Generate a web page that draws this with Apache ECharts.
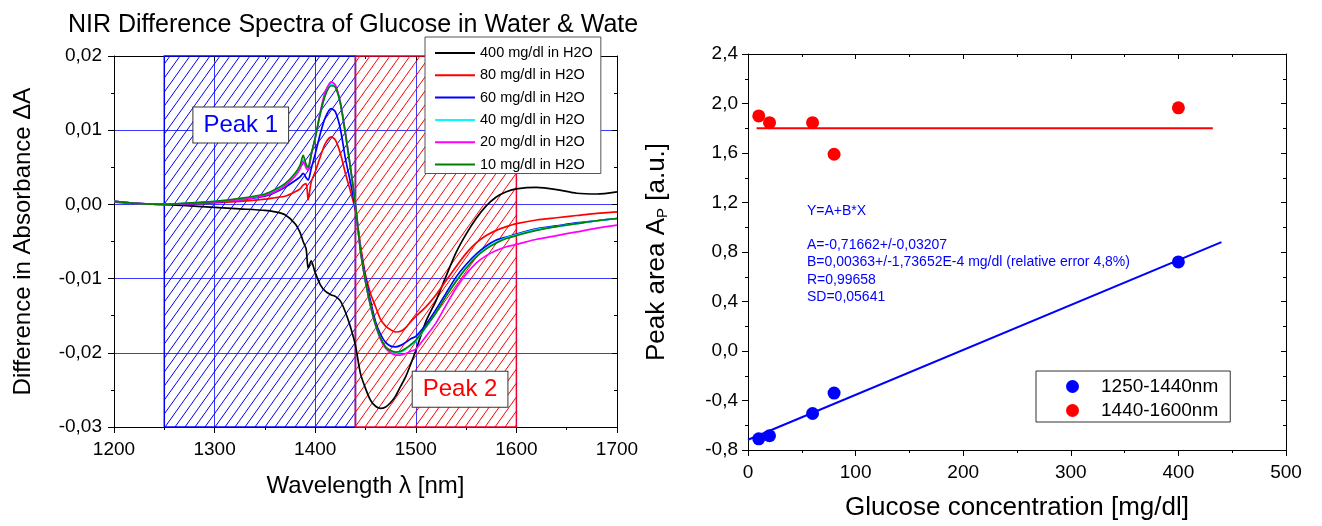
<!DOCTYPE html>
<html>
<head>
<meta charset="utf-8">
<script src="https://cdn.jsdelivr.net/npm/echarts@6.0.0/dist/echarts.min.js"></script>
<style>
html,body{margin:0;padding:0;background:#fff;}
#chart{width:1322px;height:526px;}
</style>
</head>
<body>
<div id="chart"></div>
<script>
// ---------------- data: left panel (difference spectra) ----------------
const wavelengths = [1200,1225,1250,1275,1300,1325,1350,1360,1370,1380,1385,1388,1391,1393,1396,1400,1405,1410,1416,1420,1425,1430,1435,1440,1445,1450,1455,1460,1465,1470,1475,1480,1485,1490,1495,1500,1510,1520,1530,1540,1550,1560,1570,1580,1590,1600,1620,1640,1660,1680,1700];
const dA400 = [0.0003,0.0001,0.0,-0.0002,-0.0004,-0.0006,-0.0008,-0.001,-0.0014,-0.0026,-0.0038,-0.005,-0.006,-0.0086,-0.0076,-0.0092,-0.0108,-0.0117,-0.0122,-0.0124,-0.013,-0.0145,-0.0165,-0.019,-0.0228,-0.0248,-0.0264,-0.0272,-0.0275,-0.0273,-0.0267,-0.0258,-0.0245,-0.0232,-0.0215,-0.0197,-0.0158,-0.013,-0.0097,-0.0065,-0.004,-0.0019,-0.0002,0.001,0.0017,0.0021,0.0023,0.002,0.0015,0.0014,0.0017];
const dA80 = [0.0004,0.0001,0.0,0.0001,0.0002,0.0004,0.0007,0.0009,0.0011,0.0017,0.0021,0.0026,0.0028,0.0006,0.003,0.0044,0.0064,0.0082,0.0091,0.0087,0.0069,0.0042,0.0018,-0.0008,-0.0055,-0.0095,-0.012,-0.0138,-0.0155,-0.0164,-0.0169,-0.0172,-0.0171,-0.0166,-0.0158,-0.0151,-0.0138,-0.0122,-0.0103,-0.0084,-0.0066,-0.0052,-0.0042,-0.0035,-0.003,-0.0026,-0.0021,-0.0018,-0.0015,-0.0012,-0.001];
const dA60 = [0.0004,0.0001,0.0,0.0001,0.0003,0.0006,0.0011,0.0016,0.0023,0.0032,0.0037,0.0042,0.0036,0.0033,0.0048,0.0068,0.0095,0.0117,0.0129,0.0125,0.0102,0.0062,0.003,-0.0006,-0.006,-0.0098,-0.013,-0.0158,-0.0175,-0.0186,-0.0191,-0.0192,-0.019,-0.0186,-0.0181,-0.0178,-0.0162,-0.0142,-0.012,-0.0098,-0.0081,-0.0067,-0.0056,-0.0048,-0.0044,-0.004,-0.0033,-0.0029,-0.0025,-0.0022,-0.0019];
const dA40 = [0.0004,0.0001,0.0,0.0002,0.0004,0.0007,0.0013,0.0018,0.0026,0.004,0.005,0.006,0.0052,0.0048,0.0066,0.0089,0.0122,0.0148,0.0162,0.0159,0.0137,0.0096,0.005,0.0,-0.0062,-0.0104,-0.0137,-0.0163,-0.0181,-0.0193,-0.0198,-0.02,-0.0199,-0.0195,-0.019,-0.0184,-0.0166,-0.0146,-0.0124,-0.0103,-0.0085,-0.007,-0.0059,-0.0051,-0.0045,-0.0041,-0.0034,-0.003,-0.0026,-0.0022,-0.0019];
const dA20 = [0.0004,0.0001,0.0,0.0001,0.0003,0.0006,0.0012,0.0017,0.0025,0.0038,0.0048,0.0058,0.0049,0.0046,0.0066,0.0089,0.0124,0.0152,0.0165,0.0161,0.0138,0.0097,0.005,0.0,-0.0062,-0.0104,-0.0137,-0.0163,-0.0182,-0.0194,-0.02,-0.0203,-0.0203,-0.0201,-0.0198,-0.0195,-0.0178,-0.016,-0.0136,-0.0113,-0.0094,-0.0079,-0.0069,-0.0062,-0.0057,-0.0054,-0.0047,-0.0042,-0.0037,-0.0032,-0.0028];
const dA10 = [0.0004,0.0001,0.0,0.0002,0.0004,0.0008,0.0014,0.002,0.0028,0.0042,0.0053,0.0066,0.0054,0.005,0.0068,0.009,0.0122,0.0147,0.016,0.0158,0.0136,0.0095,0.005,0.0,-0.0062,-0.0104,-0.0136,-0.0162,-0.018,-0.0192,-0.0197,-0.0199,-0.0198,-0.0194,-0.0189,-0.0183,-0.0165,-0.0146,-0.0124,-0.0104,-0.0086,-0.0071,-0.006,-0.0052,-0.0046,-0.0042,-0.0035,-0.003,-0.0026,-0.0022,-0.0019];
const spectraNames = ['400 mg/dl in H2O','80 mg/dl in H2O','60 mg/dl in H2O','40 mg/dl in H2O','20 mg/dl in H2O','10 mg/dl in H2O'];
const peakRegion1 = [1250, 1440];
const peakRegion2 = [1440, 1600];
const peakLabels = ['Peak 1', 'Peak 2'];
const peakLabelPos = [[1326, 0.0107], [1544, -0.0249]];

// ---------------- data: right panel (peak areas) ----------------
const concentrations = [10, 20, 60, 80, 400];
const areaPeak1 = [-0.71, -0.685, -0.505, -0.34, 0.72];
const areaPeak2 = [1.90, 1.845, 1.845, 1.59, 1.965];
const fitLineX = [0, 440];
const fitLineY = [-0.717, 0.88];
const meanLineX = [8, 432];
const meanLineY = [1.80, 1.80];
const areaNames = ['1250-1440nm', '1440-1600nm'];
const fitText = ['Y=A+B*X', '', 'A=-0,71662+/-0,03207', 'B=0,00363+/-1,73652E-4 mg/dl (relative error 4,8%)', 'R=0,99658', 'SD=0,05641'];

// ---------------- helpers ----------------
const FONT = "'Liberation Sans', Arial, sans-serif";
function zip(xs, ys) { return xs.map((x, i) => [x, ys[i]]); }
function comma(d) { return v => v.toFixed(d).replace('.', ','); }
function plain(v) { return String(v); }
function hatch(color) {
  const w = 10, h = 14;
  const c = document.createElement('canvas');
  c.width = w; c.height = h;
  const ctx = c.getContext('2d');
  ctx.strokeStyle = color; ctx.lineWidth = 1;
  ctx.beginPath();
  for (let k = -1; k <= 1; k++) {
    ctx.moveTo(k * w - 1, h + h / w); ctx.lineTo(k * w + w + 1, -h / w);
  }
  ctx.stroke();
  return c;
}

const chart = echarts.init(document.getElementById('chart'), null, {renderer: 'canvas'});

const lineColors = ['#000000', '#ff0000', '#0000ff', '#00ffff', '#ff00ff', '#008000'];
const spectra = [dA400, dA80, dA60, dA40, dA20, dA10];

const G1 = {left: 114, top: 56, width: 503, height: 371};
const G2 = {left: 748, top: 54, width: 538, height: 396};

const axisLine = {show: true, onZero: false, lineStyle: {color: '#000', width: 1}};
const label19 = {color: '#000', fontSize: 19, fontFamily: FONT};

const series = [];
// hatched peak regions
series.push({
  type: 'line', xAxisIndex: 0, yAxisIndex: 0, data: [], z: 1, silent: true,
  markArea: {
    silent: true,
    data: [
      [{xAxis: peakRegion1[0], yAxis: 0.02, itemStyle: {color: {image: hatch('#0000ff'), repeat: 'repeat'}, borderColor: '#0000ff', borderWidth: 1.5}},
       {xAxis: peakRegion1[1], yAxis: -0.03}],
      [{xAxis: peakRegion2[0], yAxis: 0.02, itemStyle: {color: {image: hatch('#ff0000'), repeat: 'repeat'}, borderColor: '#ee0033', borderWidth: 1.5}},
       {xAxis: peakRegion2[1], yAxis: -0.03}]
    ]
  }
});
spectra.forEach((arr, i) => {
  series.push({
    name: spectraNames[i], type: 'line', xAxisIndex: 0, yAxisIndex: 0,
    data: zip(wavelengths, arr), showSymbol: false, symbol: 'none',
    smooth: 0.25, lineStyle: {color: lineColors[i], width: 1.7}, itemStyle: {color: lineColors[i]},
    z: 3
  });
});
// peak labels
series.push({
  type: 'line', xAxisIndex: 0, yAxisIndex: 0, data: [], z: 6, silent: true,
  markPoint: {
    silent: true, symbol: 'rect', symbolSize: 1, itemStyle: {color: 'rgba(0,0,0,0)'},
    data: peakLabels.map((t, i) => ({
      coord: peakLabelPos[i],
      label: {
        show: true, position: 'inside', formatter: t, fontSize: 24, fontFamily: FONT,
        color: i === 0 ? '#0000ff' : '#ff0000', backgroundColor: '#fff',
        borderColor: '#333', borderWidth: 1, padding: [6, 10, 5, 10]
      }
    }))
  }
});

// right panel
series.push({
  type: 'line', xAxisIndex: 2, yAxisIndex: 2, data: zip(fitLineX, fitLineY), showSymbol: false, symbol: 'none',
  lineStyle: {color: '#0000ff', width: 2}, z: 3, silent: true
});
series.push({
  type: 'line', xAxisIndex: 2, yAxisIndex: 2, data: zip(meanLineX, meanLineY), showSymbol: false, symbol: 'none',
  lineStyle: {color: '#ff0000', width: 2}, z: 3, silent: true
});
series.push({
  name: areaNames[0], type: 'scatter', xAxisIndex: 2, yAxisIndex: 2, data: zip(concentrations, areaPeak1),
  symbol: 'circle', symbolSize: 13, itemStyle: {color: '#0000ff', opacity: 1}, z: 5
});
series.push({
  name: areaNames[1], type: 'scatter', xAxisIndex: 2, yAxisIndex: 2, data: zip(concentrations, areaPeak2),
  symbol: 'circle', symbolSize: 13, itemStyle: {color: '#ff0000', opacity: 1}, z: 5
});

const option = {
  animation: false,
  backgroundColor: '#ffffff',
  title: {
    text: 'NIR Difference Spectra of Glucose in Water & Water',
    left: 63, top: 8,
    textStyle: {fontSize: 25, fontWeight: 'normal', color: '#000', fontFamily: FONT, width: 574, overflow: 'truncate', ellipsis: ''}
  },
  legend: [{
    data: spectraNames, orient: 'vertical', left: 425, top: 37,
    icon: 'rect', itemWidth: 40, itemHeight: 2, itemGap: 6.3,
    padding: [8, 8, 1, 10], backgroundColor: '#fff', borderColor: '#555', borderWidth: 1,
    textStyle: {fontSize: 14.5, fontFamily: FONT, color: '#000', lineHeight: 16},
    selectedMode: false
  }, {
    data: areaNames, orient: 'vertical', left: 1036, top: 371,
    itemWidth: 13, itemHeight: 13, itemGap: 5, icon: 'circle',
    padding: [6, 12, 2, 30], backgroundColor: '#fff', borderColor: '#333', borderWidth: 1,
    textStyle: {fontSize: 19, fontFamily: FONT, color: '#000', lineHeight: 19, padding: [0, 0, 0, 17]},
    selectedMode: false
  }],
  grid: [
    Object.assign({show: false}, G1),
    Object.assign({show: false}, G2)
  ],
  xAxis: [
    { // 0: left bottom
      type: 'value', gridIndex: 0, min: 1200, max: 1700, interval: 100, position: 'bottom',
      axisLine: axisLine, axisTick: {show: true, length: 6, lineStyle: {color: '#000'}},
      minorTick: {show: true, splitNumber: 2, length: 3, lineStyle: {color: '#000'}},
      axisLabel: Object.assign({margin: 13, formatter: plain}, label19),
      splitLine: {show: true, lineStyle: {color: '#3a3aff', width: 1}},
      name: 'Wavelength \u03bb [nm]', nameLocation: 'middle', nameGap: 47,
      nameTextStyle: {fontSize: 24, fontFamily: FONT, color: '#000'}
    },
    { // 1: left top frame
      type: 'value', gridIndex: 0, min: 1200, max: 1700, interval: 100, position: 'top',
      axisLine: axisLine, axisTick: {show: true, inside: true, length: 5, lineStyle: {color: '#000'}},
      minorTick: {show: true, splitNumber: 2, length: 3, lineStyle: {color: '#000'}},
      axisLabel: {show: false}, splitLine: {show: false}
    },
    { // 2: right bottom
      type: 'value', gridIndex: 1, min: 0, max: 500, interval: 100, position: 'bottom',
      axisLine: axisLine, axisTick: {show: true, length: 6, lineStyle: {color: '#000'}},
      minorTick: {show: true, splitNumber: 2, length: 3, lineStyle: {color: '#000'}},
      axisLabel: Object.assign({margin: 13, formatter: plain}, label19),
      splitLine: {show: false},
      name: 'Glucose concentration [mg/dl]', nameLocation: 'middle', nameGap: 45,
      nameTextStyle: {fontSize: 26, fontFamily: FONT, color: '#000'}
    },
    { // 3: right top frame
      type: 'value', gridIndex: 1, min: 0, max: 500, interval: 100, position: 'top',
      axisLine: axisLine, axisTick: {show: true, inside: true, length: 5, lineStyle: {color: '#000'}},
      minorTick: {show: true, splitNumber: 2, length: 3, lineStyle: {color: '#000'}},
      axisLabel: {show: false}, splitLine: {show: false}
    }
  ],
  yAxis: [
    { // 0: left left
      type: 'value', gridIndex: 0, min: -0.03, max: 0.02, interval: 0.01, position: 'left',
      axisLine: axisLine, axisTick: {show: true, length: 6, lineStyle: {color: '#000'}},
      minorTick: {show: true, splitNumber: 2, length: 3, lineStyle: {color: '#000'}},
      axisLabel: Object.assign({margin: 12, formatter: comma(2)}, label19),
      splitLine: {show: true, lineStyle: {color: '#3a3aff', width: 1}},
      name: 'Difference in Absorbance \u0394A', nameLocation: 'middle', nameGap: 79, nameRotate: 90,
      nameTextStyle: {fontSize: 24, fontFamily: FONT, color: '#000'}
    },
    { // 1: left right frame
      type: 'value', gridIndex: 0, min: -0.03, max: 0.02, interval: 0.01, position: 'right',
      axisLine: axisLine, axisTick: {show: true, inside: true, length: 5, lineStyle: {color: '#000'}},
      minorTick: {show: true, splitNumber: 2, length: 3, lineStyle: {color: '#000'}},
      axisLabel: {show: false}, splitLine: {show: false}
    },
    { // 2: right left
      type: 'value', gridIndex: 1, min: -0.8, max: 2.4, interval: 0.4, position: 'left',
      axisLine: axisLine, axisTick: {show: true, length: 6, lineStyle: {color: '#000'}},
      minorTick: {show: true, splitNumber: 2, length: 3, lineStyle: {color: '#000'}},
      axisLabel: Object.assign({margin: 10, formatter: comma(1)}, label19),
      splitLine: {show: false},
      name: '{n|Peak area A}{s|P}{n| [a.u.]}', nameLocation: 'middle', nameGap: 78, nameRotate: 90,
      nameTextStyle: {
        fontSize: 26, fontFamily: FONT, color: '#000',
        rich: {
          n: {fontSize: 26, fontFamily: FONT, color: '#000'},
          s: {fontSize: 15, fontFamily: FONT, color: '#000', padding: [12, 0, 0, 0]}
        }
      }
    },
    { // 3: right right frame
      type: 'value', gridIndex: 1, min: -0.8, max: 2.4, interval: 0.4, position: 'right',
      axisLine: axisLine, axisTick: {show: true, inside: true, length: 5, lineStyle: {color: '#000'}},
      minorTick: {show: true, splitNumber: 2, length: 3, lineStyle: {color: '#000'}},
      axisLabel: {show: false}, splitLine: {show: false}
    }
  ],
  graphic: [{
    type: 'text', left: 807, top: 202, z: 10,
    style: {text: fitText.join('\n'), fill: '#0000ff', fontSize: 14, fontFamily: FONT, lineHeight: 17.3}
  }],
  series: series
};
chart.setOption(option);
</script>
</body>
</html>
